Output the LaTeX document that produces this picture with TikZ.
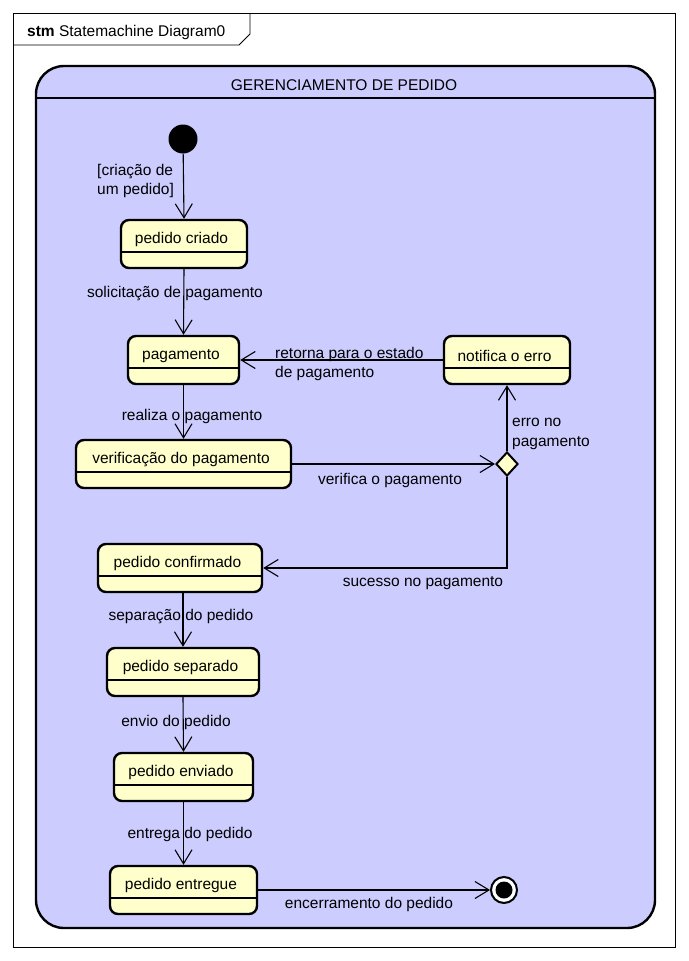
\documentclass[tikz,border=0pt]{standalone}
\usepackage{fontspec}
\setmainfont{Liberation Sans}
\usetikzlibrary{arrows.meta,shapes.geometric}

\definecolor{regionfill}{HTML}{CCCCFF}
\definecolor{statefill}{HTML}{FFFFCC}

\tikzset{
  stmtext/.style={font=\fontsize{15.5}{19.5}\selectfont, inner sep=0pt},
  stateshape/.style={draw=black, line width=2.4pt, fill=statefill,
    rounded corners=8pt, minimum height=48pt, inner sep=0pt,
    path picture={\draw[line width=1.1pt]
      ([yshift=16pt]path picture bounding box.south west) --
      ([yshift=16pt]path picture bounding box.south east);}},
  statename/.style={stmtext, anchor=center, yshift=-21pt, xshift=-2.5pt},
  trans/.style={draw=black, line width=1.1pt,
    -{Straight Barb[length=14pt, width=17pt, line width=1.1pt]}},
  guard/.style={stmtext},
}

\begin{document}
\begin{tikzpicture}[x=1pt, y=-1pt]
\useasboundingbox (0,0) rectangle (688,961);
\fill[white] (0,0) rectangle (688,961);

% diagram frame with its name tab
\draw[line width=0.9pt] (13,13) rectangle (675,947);
\draw[line width=0.9pt] (13,45) -- (239,45) -- (250,34) -- (250,13);
\node[stmtext, anchor=west] (frametitle) at (27,32)
  {\textbf{stm} Statemachine Diagram0};

% composite state
\draw[line width=2.4pt, fill=regionfill, rounded corners=28pt]
  (36,66) rectangle (655,928);
\draw[line width=1.1pt] (36,98) -- (655,98);
\node[stmtext] (regiontitle) at (344,85) {GERENCIAMENTO DE PEDIDO};

% pseudo states
\node[circle, fill=black, minimum size=29pt, inner sep=0pt] (start) at (183,139) {};
\node[diamond, draw=black, line width=2pt, fill=statefill, inner sep=0pt,
  minimum width=22pt, minimum height=24pt] (check) at (507,464) {};
\node[circle, draw=black, line width=2pt, fill=white, minimum size=26pt, inner sep=0pt,
  path picture={\fill[black] (path picture bounding box.center) circle (8.5pt);}]
  (finish) at (504,890) {};

% states
\node[stateshape, minimum width=126pt, label={[statename]north:pedido criado}]
  (criado) at (184,244) {};
\node[stateshape, minimum width=111pt, label={[statename]north:pagamento}]
  (pagamento) at (183.5,360) {};
\node[stateshape, minimum width=126pt, label={[statename]north:notifica o erro}]
  (notifica) at (507,360) {};
\node[stateshape, minimum width=215pt, label={[statename]north:verificação do pagamento}]
  (verificacao) at (183.5,464) {};
\node[stateshape, minimum width=164pt, label={[statename]north:pedido confirmado}]
  (confirmado) at (180,568) {};
\node[stateshape, minimum width=152pt, label={[statename]north:pedido separado}]
  (separado) at (183,672) {};
\node[stateshape, minimum width=139pt, label={[statename]north:pedido enviado}]
  (enviado) at (183.5,777) {};
\node[stateshape, minimum width=147pt, label={[statename]north:pedido entregue}]
  (entregue) at (183.5,890) {};

% transitions
\draw[trans] (start) -- (criado.north);
\draw[trans] (criado.south) -- (pagamento.north);
\draw[trans] (notifica.west) -- (pagamento.east);
\draw[trans] (pagamento.south) -- (verificacao.north);
\draw[trans] (verificacao.east) -- (check.west);
\draw[trans] (check.north) -- (notifica.south);
\draw[trans] (check.south) |- (confirmado.east);
\draw[trans] (confirmado.south -| separado.north) -- (separado.north);
\draw[trans] (separado.south) -- (enviado.north);
\draw[trans] (enviado.south) -- (entregue.north);
\draw[trans] (entregue.east) -- (finish.west);

% transition labels
\node[guard, anchor=west, align=left] (lcriacao) at (97,181) {[criação de\\um pedido]};
\node[guard] (lsolicita) at (175,294) {solicitação de pagamento};
\node[guard, anchor=west, align=left] (lretorna) at (275,364) {retorna para o estado\\de pagamento};
\node[guard] (lrealiza) at (192,416) {realiza o pagamento};
\node[guard] (lverifica) at (390,480) {verifica o pagamento};
\node[guard, anchor=west, align=left] (lerro) at (512,434) {erro no\\pagamento};
\node[guard] (lsucesso) at (423,583) {sucesso no pagamento};
\node[guard] (lseparacao) at (181,617) {separação do pedido};
\node[guard] (lenvio) at (176,722) {envio do pedido};
\node[guard] (lentrega) at (190,834) {entrega do pedido};
\node[guard] (lencerra) at (369,904) {encerramento do pedido};
\end{tikzpicture}
\end{document}
